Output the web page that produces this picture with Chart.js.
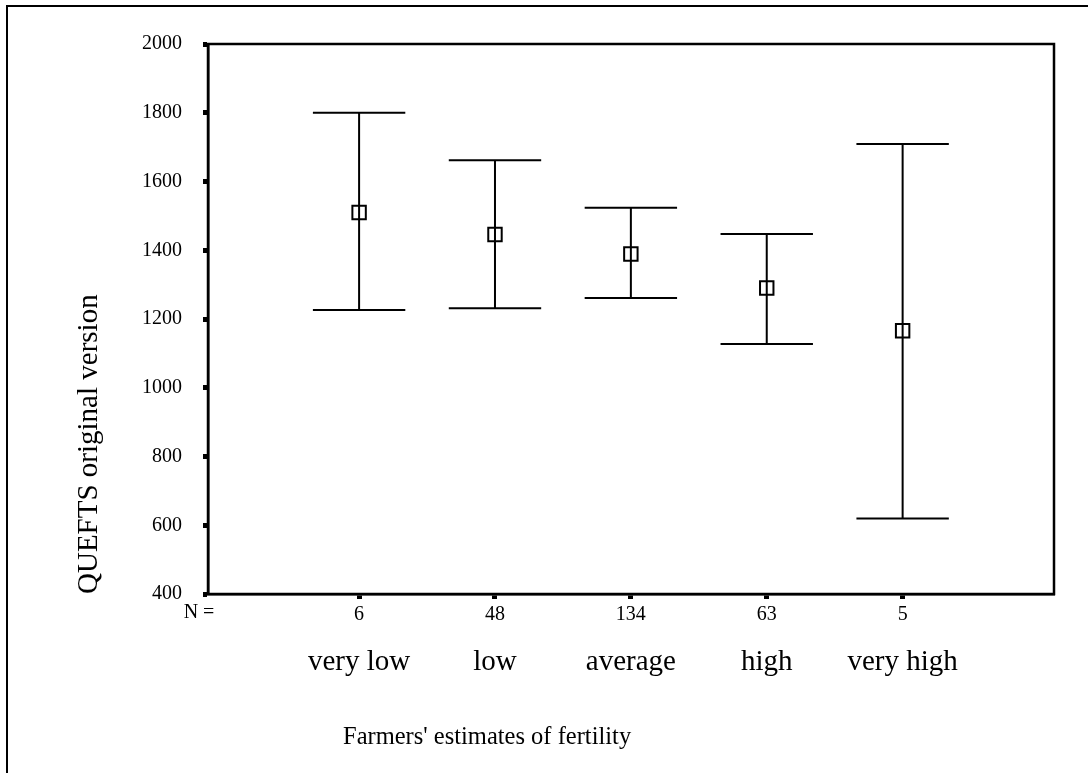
<!DOCTYPE html>
<html>
<head>
<meta charset="utf-8">
<script src="https://cdn.jsdelivr.net/npm/chart.js@4.4.1/dist/chart.umd.min.js"></script>
<style>
  html, body { margin: 0; padding: 0; background: #fff; }
  #wrap { position: relative; width: 1088px; height: 773px; }
</style>
</head>
<body>
<div id="wrap"><canvas id="chart"></canvas></div>
<script>
// fertility classes and their sample sizes
const categories = ['very low', 'low', 'average', 'high', 'very high'];
const counts = [6, 48, 134, 63, 5];

// mean and 95% CI bounds per class
const means = [1510, 1446, 1389, 1290, 1166];
const upper = [1800, 1662, 1524, 1447, 1709];
const lower = [1226, 1231, 1261, 1127, 620];

const yTicks = [400, 600, 800, 1000, 1200, 1400, 1600, 1800, 2000];

const FONT = 'Liberation Serif, Times New Roman, serif';
const CAP_HALF = 0.34; // half width of the whisker caps, in category units

function categoryTicks(scale) {
  scale.ticks = categories.map((_, i) => ({ value: i + 1 }));
}

const errorBars = {
  id: 'errorBars',
  beforeDatasetsDraw(chart) {
    const { ctx, scales: { x, y } } = chart;
    ctx.save();
    ctx.strokeStyle = '#000';
    ctx.lineWidth = 2;
    categories.forEach((c, i) => {
      const cx = x.getPixelForValue(i + 1);
      const x0 = x.getPixelForValue(i + 1 - CAP_HALF);
      const x1 = x.getPixelForValue(i + 1 + CAP_HALF);
      const yt = y.getPixelForValue(upper[i]);
      const yb = y.getPixelForValue(lower[i]);
      ctx.beginPath();
      ctx.moveTo(cx, yt); ctx.lineTo(cx, yb);
      ctx.moveTo(x0, yt); ctx.lineTo(x1, yt);
      ctx.moveTo(x0, yb); ctx.lineTo(x1, yb);
      ctx.stroke();
    });
    ctx.restore();
  }
};

const frame = {
  id: 'frame',
  afterDraw(chart) {
    const { ctx, chartArea: a } = chart;
    ctx.save();
    ctx.strokeStyle = '#000';
    ctx.lineWidth = 2.5;
    ctx.strokeRect(a.left, a.top, a.right - a.left, a.bottom - a.top);

    // page border on the left and top
    ctx.lineWidth = 2;
    ctx.beginPath();
    ctx.moveTo(7, chart.height);
    ctx.lineTo(7, 6);
    ctx.lineTo(chart.width, 6);
    ctx.stroke();

    ctx.fillStyle = '#000';
    ctx.textBaseline = 'middle';
    ctx.font = '20px ' + FONT;
    ctx.textAlign = 'center';
    ctx.fillText('N =', 199, 613);

    ctx.font = '24.5px ' + FONT;
    ctx.textAlign = 'left';
    ctx.fillText("Farmers' estimates of fertility", 343, 738);
    ctx.restore();
  }
};

new Chart(document.getElementById('chart'), {
  type: 'scatter',
  data: {
    datasets: [{
      data: means.map((m, i) => ({ x: i + 1, y: m })),
      pointStyle: 'rect',
      pointRadius: 9.5,
      borderWidth: 2,
      borderColor: '#000',
      backgroundColor: 'rgba(0,0,0,0)'
    }]
  },
  options: {
    responsive: true,
    maintainAspectRatio: false,
    animation: false,
    events: [],
    layout: { padding: { left: 0, top: 44, right: 34, bottom: 0 } },
    plugins: {
      legend: { display: false },
      tooltip: { enabled: false }
    },
    scales: {
      x: {
        type: 'linear',
        position: 'bottom',
        min: -0.112,
        max: 6.114,
        afterBuildTicks: categoryTicks,
        afterFit: s => { s.height = 40; },
        grid: { drawOnChartArea: false, drawTicks: true, tickLength: 5, tickWidth: 5, tickColor: '#000' },
        border: { display: true, color: '#000', width: 2.5 },
        ticks: {
          autoSkip: false,
          maxRotation: 0,
          padding: 4,
          color: '#000',
          font: { family: FONT, size: 20 },
          callback: (v, i) => counts[i]
        }
      },
      names: {
        type: 'linear',
        position: 'bottom',
        min: -0.112,
        max: 6.114,
        afterBuildTicks: categoryTicks,
        afterFit: s => { s.height = 139; },
        grid: { display: false, drawTicks: false },
        border: { display: false },
        ticks: {
          autoSkip: false,
          maxRotation: 0,
          padding: 11,
          color: '#000',
          font: { family: FONT, size: 29 },
          callback: (v, i) => categories[i]
        }
      },
      y: {
        min: 400,
        max: 2000,
        afterBuildTicks: s => { s.ticks = yTicks.map(v => ({ value: v })); },
        afterFit: s => { s.width = 208; },
        grid: { drawOnChartArea: false, drawTicks: true, tickLength: 5, tickWidth: 5, tickColor: '#000' },
        border: { display: true, color: '#000', width: 2.5 },
        ticks: {
          padding: 21,
          color: '#000',
          font: { family: FONT, size: 20 },
          callback: v => String(v)
        },
        title: {
          display: true,
          text: 'QUEFTS original version',
          align: 'start',
          color: '#000',
          font: { family: FONT, size: 29 },
          padding: { top: 72, bottom: 0 }
        }
      }
    }
  },
  plugins: [errorBars, frame]
});
</script>
</body>
</html>
